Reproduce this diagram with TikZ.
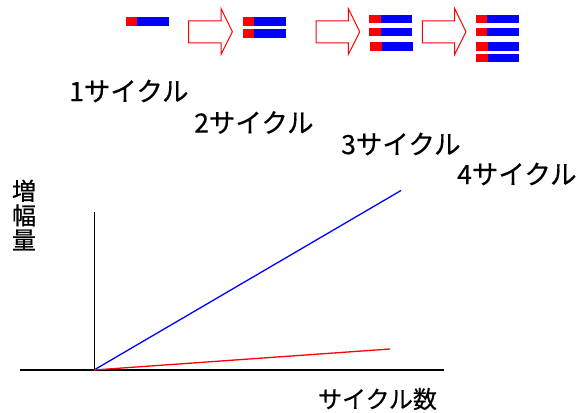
\documentclass[tikz,border=0pt]{standalone}
\usepackage{fontspec}
\newfontfamily\jpfont[FakeBold=0.5]{Noto Sans CJK JP}
\usepackage{tikz}
\usetikzlibrary{positioning}

\begin{document}
\begin{tikzpicture}[x=1pt, y=-1pt,
    cyclabel/.style={font=\jpfont\fontsize{26.5}{26.5}\selectfont, inner sep=0pt, anchor=west},
    axislabel/.style={font=\jpfont\fontsize{24}{24.5}\selectfont, inner sep=0pt, align=center},
    blockarrow/.style={draw=red, fill=white, line width=1pt}]
    \useasboundingbox (0,0) rectangle (580,412);

    % DNA strands: red primer part and blue template part
    \foreach \x/\y in {125.7/17.3,
                       242.7/17.3, 242.7/29.3,
                       369.3/15, 369.3/27.7, 370.3/42.3,
                       475.7/15, 475.7/27.7, 476/42.3, 476/53.7} {
        \fill[red] (\x,\y) rectangle ++(11.5,8.3);
        \fill[blue] (\x+11.5,\y) rectangle ++(31.5,8.3);
    }

    % Block arrows between the cycles
    \foreach \x in {188.7, 316, 422.3} {
        \draw[blockarrow] (\x,21) -- ++(32.3,0) -- ++(0,-12.5) -- ++(11.4,23.3)
            -- ++(-11.4,22.7) -- ++(0,-11.5) -- ++(-32.3,0) -- cycle;
    }

    % Cycle labels
    \node[cyclabel] (cyc1) at (69,91) {1サイクル};
    \node[cyclabel] (cyc2) at (194,122.5) {2サイクル};
    \node[cyclabel] (cyc3) at (341,144) {3サイクル};
    \node[cyclabel] (cyc4) at (457,174) {4サイクル};

    % Axes
    \coordinate (O) at (94,370);
    \coordinate (ytop) at (94,211.5);
    \coordinate (xleft) at (20,370);
    \coordinate (xright) at (444,370);
    \draw[line width=1pt] (O) -- (ytop);
    \draw[line width=1.2pt] (xleft) -- (xright);

    % Amplification curves
    \coordinate (B) at (401,190.5);
    \coordinate (R) at (390,349);
    \draw[blue, line width=1.3pt] (O) -- (B);
    \draw[red, line width=1.3pt] (O) -- (R);

    % Axis labels
    \node[axislabel] (ylab) at (24,215) {増\\幅\\量};
    \node[axislabel] (xlab) at (377.5,399) {サイクル数};
\end{tikzpicture}
\end{document}
